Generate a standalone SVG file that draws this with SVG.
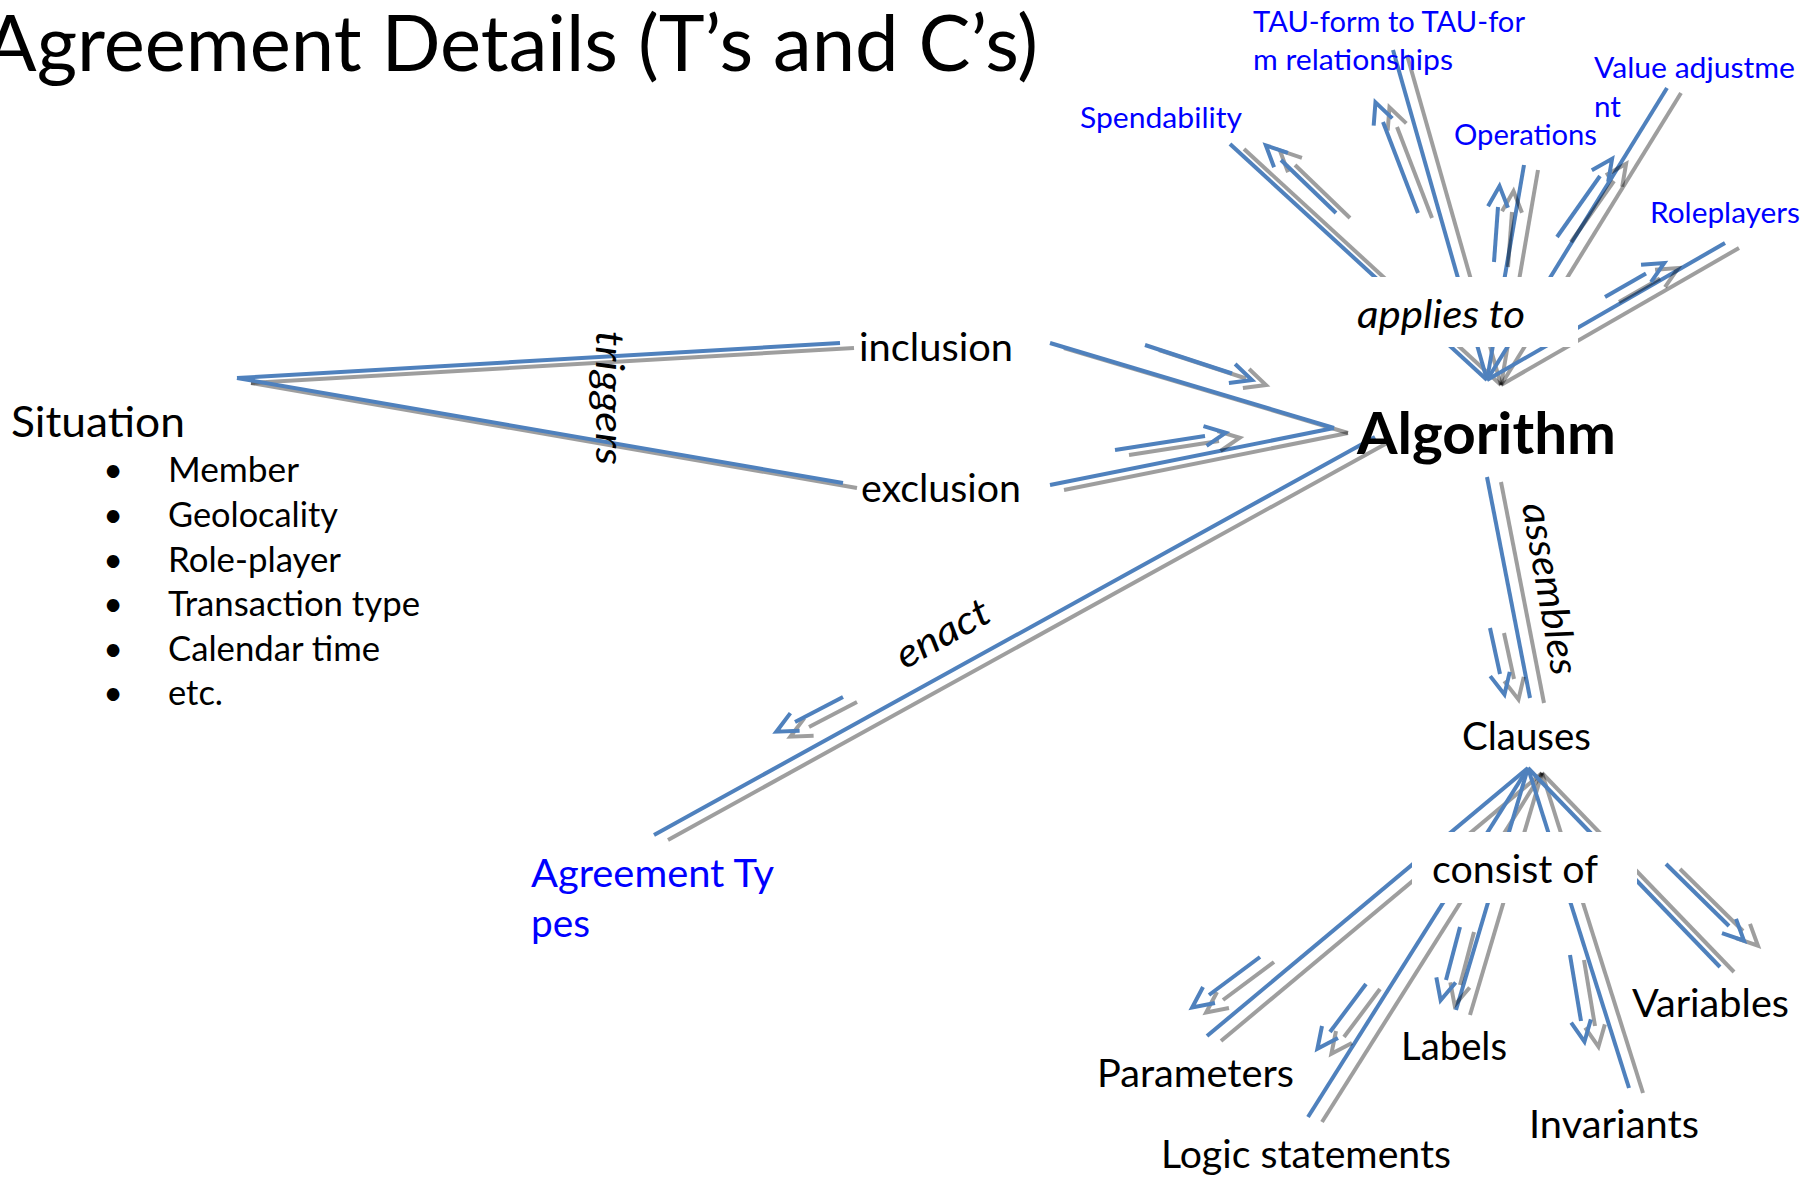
<svg xmlns="http://www.w3.org/2000/svg" width="1806" height="1180" viewBox="0 0 1806 1180">
<defs>
<style>
.bg{fill:#fff}
.t{font-family:Lato,"Open Sans","Liberation Sans",sans-serif;fill:#000}
.title{font-size:78px}
.sit{font-size:43px}
.li{font-size:34px}
.lb{font-size:39px}
.it{font-style:italic}
.alg{font-size:58px;font-weight:bold}
.bl{fill:#0000ff}
.sm{font-size:29px}
.ln{fill:none;stroke:#4F81BD;stroke-width:4}
.sh{fill:none;stroke:#000;stroke-opacity:.38;stroke-width:4}
</style>
<marker id="ab" markerUnits="userSpaceOnUse" orient="auto" refX="0" refY="0" markerWidth="30" markerHeight="30" overflow="visible"><path class="ln" d="M0,-10 L21,0 L0,10"/></marker>
<marker id="ag" markerUnits="userSpaceOnUse" orient="auto" refX="0" refY="0" markerWidth="30" markerHeight="30" overflow="visible"><path class="sh" d="M0,-10 L21,0 L0,10"/></marker>
</defs>
<rect class="bg" x="0" y="0" width="1806" height="1180"/>

<g id="connectors">
 <g id="c-sit-incl"><path class="sh" transform="translate(14,5)" d="M237,378 L840,343"/><path class="ln" d="M237,378 L840,343"/></g>
 <g id="c-sit-excl"><path class="sh" transform="translate(14,5)" d="M237,378 L843,483"/><path class="ln" d="M237,378 L843,483"/></g>
 <g id="c-incl-alg"><path class="sh" transform="translate(14,5)" d="M1050,343 L1334,428"/><path class="ln" d="M1050,343 L1334,428"/><path class="sh" transform="translate(14,5)" marker-end="url(#ag)" d="M1145,345 L1232,373.5"/><path class="ln" marker-end="url(#ab)" d="M1145,345 L1232,373.5"/></g>
 <g id="c-excl-alg"><path class="sh" transform="translate(14,5)" d="M1050,485 L1334,428"/><path class="ln" d="M1050,485 L1334,428"/><path class="sh" transform="translate(14,5)" marker-end="url(#ag)" d="M1115,450 L1205,436"/><path class="ln" marker-end="url(#ab)" d="M1115,450 L1205,436"/></g>
 <g id="c-enact"><path class="sh" transform="translate(14,5)" d="M1375,437 L654,835"/><path class="ln" d="M1375,437 L654,835"/><path class="sh" transform="translate(14,5)" marker-end="url(#ag)" d="M843,697 L795,722"/><path class="ln" marker-end="url(#ab)" d="M843,697 L795,722"/></g>
 <g id="c-assembles"><path class="sh" transform="translate(14,5)" d="M1487,477 L1530,698"/><path class="ln" d="M1487,477 L1530,698"/><path class="sh" transform="translate(14,5)" marker-end="url(#ag)" d="M1490,628 L1500,674"/><path class="ln" marker-end="url(#ab)" d="M1490,628 L1500,674"/></g>
 <g id="c-spend"><path class="sh" transform="translate(14,5)" d="M1487,380 L1230,144"/><path class="ln" d="M1487,380 L1230,144"/><path class="sh" transform="translate(14,5)" marker-end="url(#ag)" d="M1336,213 L1281,160"/><path class="ln" marker-end="url(#ab)" d="M1336,213 L1281,160"/></g>
 <g id="c-tau"><path class="sh" transform="translate(14,5)" d="M1487,380 L1393,50"/><path class="ln" d="M1487,380 L1393,50"/><path class="sh" transform="translate(14,5)" marker-end="url(#ag)" d="M1418,213 L1383,122"/><path class="ln" marker-end="url(#ab)" d="M1418,213 L1383,122"/></g>
 <g id="c-ops"><path class="sh" transform="translate(14,5)" d="M1487,380 L1524,165"/><path class="ln" d="M1487,380 L1524,165"/><path class="sh" transform="translate(14,5)" marker-end="url(#ag)" d="M1494,262 L1498,207"/><path class="ln" marker-end="url(#ab)" d="M1494,262 L1498,207"/></g>
 <g id="c-value"><path class="sh" transform="translate(14,5)" d="M1487,380 L1667,88"/><path class="ln" d="M1487,380 L1667,88"/><path class="sh" transform="translate(14,5)" marker-end="url(#ag)" d="M1557,237 L1600,176"/><path class="ln" marker-end="url(#ab)" d="M1557,237 L1600,176"/></g>
 <g id="c-role"><path class="sh" transform="translate(14,5)" d="M1487,380 L1725,243"/><path class="ln" d="M1487,380 L1725,243"/><path class="sh" transform="translate(14,5)" marker-end="url(#ag)" d="M1605,297 L1646,273.5"/><path class="ln" marker-end="url(#ab)" d="M1605,297 L1646,273.5"/></g>
 <g id="c-params"><path class="sh" transform="translate(14,5)" d="M1528,768 L1207,1036"/><path class="ln" d="M1528,768 L1207,1036"/><path class="sh" transform="translate(14,5)" marker-end="url(#ag)" d="M1260,957 L1209,995"/><path class="ln" marker-end="url(#ab)" d="M1260,957 L1209,995"/></g>
 <g id="c-logic"><path class="sh" transform="translate(14,5)" d="M1528,768 L1308,1117"/><path class="ln" d="M1528,768 L1308,1117"/><path class="sh" transform="translate(14,5)" marker-end="url(#ag)" d="M1366,984 L1330,1032"/><path class="ln" marker-end="url(#ab)" d="M1366,984 L1330,1032"/></g>
 <g id="c-labels"><path class="sh" transform="translate(14,5)" d="M1528,768 L1456,1010"/><path class="ln" d="M1528,768 L1456,1010"/><path class="sh" transform="translate(14,5)" marker-end="url(#ag)" d="M1460,927 L1446,980"/><path class="ln" marker-end="url(#ab)" d="M1460,927 L1446,980"/></g>
 <g id="c-inv"><path class="sh" transform="translate(14,5)" d="M1528,768 L1629,1088"/><path class="ln" d="M1528,768 L1629,1088"/><path class="sh" transform="translate(14,5)" marker-end="url(#ag)" d="M1570,955 L1581,1021"/><path class="ln" marker-end="url(#ab)" d="M1570,955 L1581,1021"/></g>
 <g id="c-var"><path class="sh" transform="translate(14,5)" d="M1528,768 L1720,967"/><path class="ln" d="M1528,768 L1720,967"/><path class="sh" transform="translate(14,5)" marker-end="url(#ag)" d="M1666,864 L1729,926"/><path class="ln" marker-end="url(#ab)" d="M1666,864 L1729,926"/></g>
 <g id="lbl-triggers"><text class="t lb it" text-anchor="middle" transform="translate(596,398) rotate(90)" textLength="134" lengthAdjust="spacingAndGlyphs">triggers</text></g>
 <g id="lbl-enact"><text class="t lb it" text-anchor="middle" transform="translate(949,645) rotate(-29)" textLength="102" lengthAdjust="spacingAndGlyphs">enact</text></g>
 <g id="lbl-assembles"><text class="t lb it" text-anchor="middle" transform="translate(1537,591) rotate(80)" textLength="174" lengthAdjust="spacingAndGlyphs">assembles</text></g>
 <g id="lbl-applies"><rect class="bg" x="1340" y="277" width="238" height="70"/><text class="t lb it" x="1357" y="328" textLength="168" lengthAdjust="spacingAndGlyphs">applies to</text></g>
 <g id="lbl-consist"><rect class="bg" x="1412" y="832" width="225" height="71"/><text class="t lb" x="1432" y="883" textLength="166" lengthAdjust="spacingAndGlyphs">consist of</text></g>
</g>

<g id="n-title"><text class="t title" x="-16" y="71" textLength="1054" lengthAdjust="spacingAndGlyphs">Agreement Details (T’s and C’s)</text></g>
<g id="n-situation">
 <text class="t sit" x="11" y="437" textLength="174" lengthAdjust="spacingAndGlyphs">Situation</text>
 <text class="t li" text-anchor="middle" x="113" y="482">•</text><text class="t li" x="168" y="482" textLength="131" lengthAdjust="spacingAndGlyphs">Member</text>
 <text class="t li" text-anchor="middle" x="113" y="527">•</text><text class="t li" x="168" y="527" textLength="170" lengthAdjust="spacingAndGlyphs">Geolocality</text>
 <text class="t li" text-anchor="middle" x="113" y="572">•</text><text class="t li" x="168" y="572" textLength="173" lengthAdjust="spacingAndGlyphs">Role-player</text>
 <text class="t li" text-anchor="middle" x="113" y="616">•</text><text class="t li" x="168" y="616" textLength="252" lengthAdjust="spacingAndGlyphs">Transaction type</text>
 <text class="t li" text-anchor="middle" x="113" y="661">•</text><text class="t li" x="168" y="661" textLength="212" lengthAdjust="spacingAndGlyphs">Calendar time</text>
 <text class="t li" text-anchor="middle" x="113" y="705">•</text><text class="t li" x="168" y="705" textLength="55" lengthAdjust="spacingAndGlyphs">etc.</text>
</g>
<g id="n-inclusion"><text class="t lb" x="859" y="361" textLength="154" lengthAdjust="spacingAndGlyphs">inclusion</text></g>
<g id="n-exclusion"><text class="t lb" x="861" y="502" textLength="160" lengthAdjust="spacingAndGlyphs">exclusion</text></g>
<g id="n-algorithm"><text class="t alg" x="1357" y="454" textLength="259" lengthAdjust="spacingAndGlyphs">Algorithm</text></g>
<g id="n-agreement-types"><text class="t lb bl" x="531" y="887" textLength="243" lengthAdjust="spacingAndGlyphs">Agreement Ty</text><text class="t lb bl" x="531" y="937" textLength="59" lengthAdjust="spacingAndGlyphs">pes</text></g>
<g id="n-clauses"><text class="t lb" x="1462" y="750" textLength="129" lengthAdjust="spacingAndGlyphs">Clauses</text></g>
<g id="n-spendability"><text class="t sm bl" x="1080" y="128" textLength="162" lengthAdjust="spacingAndGlyphs">Spendability</text></g>
<g id="n-tau"><text class="t sm bl" x="1253" y="32" textLength="272" lengthAdjust="spacingAndGlyphs">TAU-form to TAU-for</text><text class="t sm bl" x="1253" y="70" textLength="200" lengthAdjust="spacingAndGlyphs">m relationships</text></g>
<g id="n-operations"><text class="t sm bl" x="1454" y="145" textLength="143" lengthAdjust="spacingAndGlyphs">Operations</text></g>
<g id="n-value"><text class="t sm bl" x="1594" y="78" textLength="201" lengthAdjust="spacingAndGlyphs">Value adjustme</text><text class="t sm bl" x="1594" y="117" textLength="27" lengthAdjust="spacingAndGlyphs">nt</text></g>
<g id="n-roleplayers"><text class="t sm bl" x="1650" y="223" textLength="150" lengthAdjust="spacingAndGlyphs">Roleplayers</text></g>
<g id="n-parameters"><text class="t lb" x="1097" y="1087" textLength="197" lengthAdjust="spacingAndGlyphs">Parameters</text></g>
<g id="n-logic"><text class="t lb" x="1161" y="1168" textLength="290" lengthAdjust="spacingAndGlyphs">Logic statements</text></g>
<g id="n-labels"><text class="t lb" x="1401" y="1060" textLength="106" lengthAdjust="spacingAndGlyphs">Labels</text></g>
<g id="n-invariants"><text class="t lb" x="1529" y="1138" textLength="170" lengthAdjust="spacingAndGlyphs">Invariants</text></g>
<g id="n-variables"><text class="t lb" x="1632" y="1017" textLength="157" lengthAdjust="spacingAndGlyphs">Variables</text></g>
</svg>
